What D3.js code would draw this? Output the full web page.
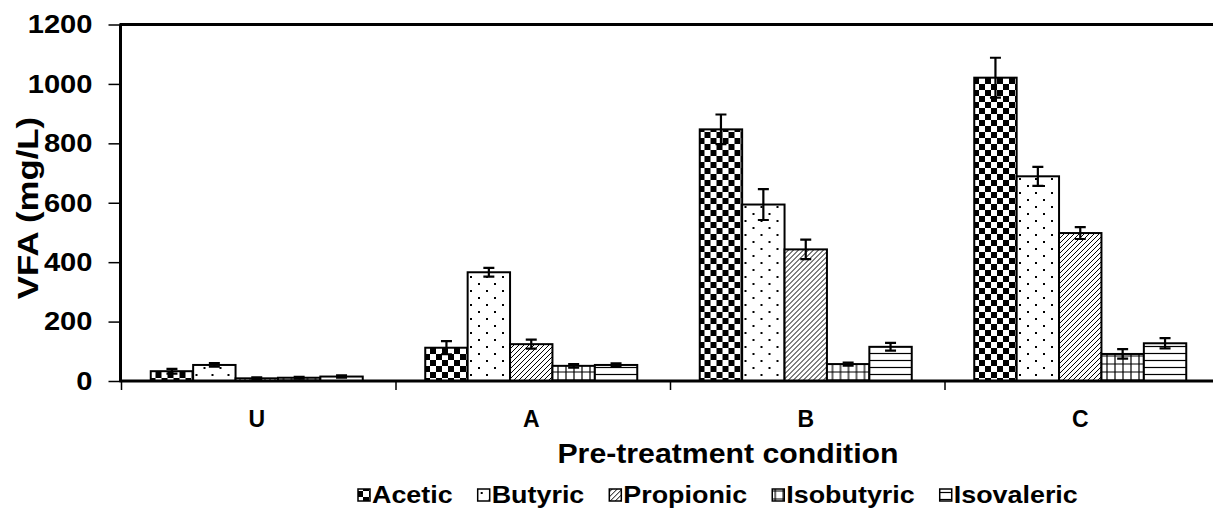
<!DOCTYPE html>
<html>
<head>
<meta charset="utf-8">
<script src="https://cdn.jsdelivr.net/npm/d3@7"></script>
<style>
  body { margin: 0; background: #fff; }
  text { font-family: "Liberation Sans", Arial, sans-serif; font-weight: bold; fill: #000; }
</style>
</head>
<body>
<div class="chart"></div>
<script>
const categories = ['U', 'A', 'B', 'C'];
const series = ['Acetic', 'Butyric', 'Propionic', 'Isobutyric', 'Isovaleric'];
const acetic = [33, 112, 847, 1021];
const acetic_err = [8, 22, 50, 67];
const butyric = [54, 366, 594, 689];
const butyric_err = [6, 15, 52, 32];
const propionic = [9, 124, 443, 498];
const propionic_err = [3, 15, 33, 20];
const isobutyric = [11, 51, 57, 91];
const isobutyric_err = [3, 6, 5, 16];
const isovaleric = [15, 54, 115, 127];
const isovaleric_err = [4, 5, 13, 17];
const yTicks = [0, 200, 400, 600, 800, 1000, 1200];

const values = [acetic, butyric, propionic, isobutyric, isovaleric];
const errors = [acetic_err, butyric_err, propionic_err, isobutyric_err, isovaleric_err];
const patternIds = ['p-acetic', 'p-butyric', 'p-propionic', 'p-isobutyric', 'p-isovaleric'];

const width = 1213, height = 518;
const stretchK = 1.17;

const svg = d3.select('.chart').append('svg')
    .attr('width', width)
    .attr('height', height);

// fill patterns
const defs = svg.append('defs');
const pat = (id, w, h) => defs.append('pattern')
    .attr('id', id).attr('patternUnits', 'userSpaceOnUse')
    .attr('width', w).attr('height', h);

let p = pat('p-acetic', 12, 12);
p.append('rect').attr('width', 12).attr('height', 12).attr('fill', '#fff');
p.append('rect').attr('width', 6).attr('height', 6).attr('fill', '#000');
p.append('rect').attr('x', 6).attr('y', 6).attr('width', 6).attr('height', 6).attr('fill', '#000');

p = pat('p-butyric', 16, 14);
p.append('rect').attr('width', 16).attr('height', 14).attr('fill', '#fff');
p.append('rect').attr('x', 4).attr('y', 3).attr('width', 2).attr('height', 2).attr('fill', '#000');
p.append('rect').attr('x', 12).attr('y', 10).attr('width', 2).attr('height', 2).attr('fill', '#000');

p = pat('p-propionic', 5, 5);
p.append('rect').attr('width', 5).attr('height', 5).attr('fill', '#fff');
p.append('path').attr('d', 'M0,5L5,0M-1,1L1,-1M4,6L6,4').attr('stroke', '#000').attr('stroke-width', 1);

p = pat('p-isobutyric', 8, 8);
p.append('rect').attr('width', 8).attr('height', 8).attr('fill', '#fff');
p.append('path').attr('d', 'M4,0V8M0,4H8').attr('stroke', '#000').attr('stroke-width', 1.2);

p = pat('p-isovaleric', 8, 7);
p.append('rect').attr('width', 8).attr('height', 7).attr('fill', '#fff');
p.append('path').attr('d', 'M0,3.5H8').attr('stroke', '#000').attr('stroke-width', 1.2);

const stretch = function (sel, k) {
  sel.each(function () {
    const l = this.getComputedTextLength();
    d3.select(this).attr('textLength', l * k).attr('lengthAdjust', 'spacingAndGlyphs');
  });
};

const xScale = d3.scaleBand()
    .domain(categories)
    .range([119.5, 1217.5]);

const xInner = d3.scaleBand()
    .domain(series)
    .range([31.25, xScale.bandwidth() - 31.25]);

const yScale = d3.scaleLinear()
    .domain([0, 1200])
    .range([381, 24.5]);

// top frame line
svg.append('line')
    .attr('x1', 119.5).attr('x2', 1217.5)
    .attr('y1', yScale(1200)).attr('y2', yScale(1200))
    .attr('stroke', '#000').attr('stroke-width', 3);

// bars
const groups = svg.selectAll('.grp')
  .data(categories)
  .enter().append('g')
    .attr('class', 'grp')
    .attr('transform', d => `translate(${xScale(d)},0)`);

series.forEach((s, si) => {
  groups.append('rect')
      .attr('x', (d, ci) => xInner(s))
      .attr('y', (d, ci) => yScale(values[si][ci]))
      .attr('width', xInner.bandwidth())
      .attr('height', (d, ci) => yScale(0) - yScale(values[si][ci]))
      .attr('fill', `url(#${patternIds[si]})`)
      .attr('stroke', '#000').attr('stroke-width', 2);
});

// error bars
series.forEach((s, si) => {
  const cx = xInner(s) + xInner.bandwidth() / 2;
  groups.append('path')
      .attr('d', (d, ci) => {
        const v = values[si][ci], e = errors[si][ci];
        const y1 = yScale(v + e), y0 = yScale(Math.max(0, v - e));
        return `M${cx},${y0}V${y1}M${cx - 5.5},${y1}H${cx + 5.5}M${cx - 5.5},${y0}H${cx + 5.5}`;
      })
      .attr('fill', 'none')
      .attr('stroke', '#000').attr('stroke-width', 2.2);
});

// y axis
const yAxis = svg.append('g')
    .attr('transform', 'translate(120.5,0)')
    .call(d3.axisLeft(yScale).tickValues(yTicks).tickFormat(d3.format('d')).tickSize(12).tickPadding(16));
yAxis.select('.domain').attr('stroke-width', 3).attr('d', `M0,${yScale(1200)}V${yScale(0)}`);
yAxis.selectAll('.tick line').attr('stroke-width', 1.5);
yAxis.selectAll('.tick text')
    .style('font-size', '26px')
    .style('font-family', '"Liberation Sans", Arial, sans-serif')
    .style('font-weight', 'bold')
    .call(stretch, 1.12);

// x axis
const xAxis = svg.append('g')
    .attr('transform', `translate(0,${yScale(0)})`);
xAxis.append('line')
    .attr('x1', 119.5).attr('x2', 1217.5)
    .attr('stroke', '#000').attr('stroke-width', 3);
xAxis.selectAll('.xtick')
  .data(categories)
  .enter().append('line')
    .attr('x1', d => xScale(d) + 2).attr('x2', d => xScale(d) + 2)
    .attr('y1', 0).attr('y2', 9)
    .attr('stroke', '#000').attr('stroke-width', 1.5);
xAxis.selectAll('.xlab')
  .data(categories)
  .enter().append('text')
    .attr('x', d => xScale(d) + xScale.bandwidth() / 2)
    .attr('y', 46)
    .attr('text-anchor', 'middle')
    .style('font-size', '23px')
    .text(d => d);

// axis titles
svg.append('text')
    .attr('x', 728).attr('y', 463)
    .attr('text-anchor', 'middle')
    .style('font-size', '27px')
    .text('Pre-treatment condition')
    .call(stretch, 1.12);

svg.append('text')
    .attr('transform', 'translate(38,208) rotate(-90)')
    .attr('text-anchor', 'middle')
    .style('font-size', '29px')
    .text('VFA (mg/L)')
    .call(stretch, 1.2);

// legend
const legend = svg.append('g').attr('transform', 'translate(357,503)');
let lx = 0;
series.forEach((s, si) => {
  const item = legend.append('g').attr('transform', `translate(${lx},0)`);
  item.append('rect')
      .attr('x', 1).attr('y', -14)
      .attr('width', 12).attr('height', 12)
      .attr('fill', `url(#${patternIds[si]})`)
      .attr('stroke', '#000').attr('stroke-width', 1.5);
  const t = item.append('text')
      .attr('x', 15).attr('y', 0)
      .style('font-size', '24px')
      .text(s)
      .call(stretch, 1.12);
  lx += 15 + +t.attr('textLength') + 24;
});
</script>
</body>
</html>
